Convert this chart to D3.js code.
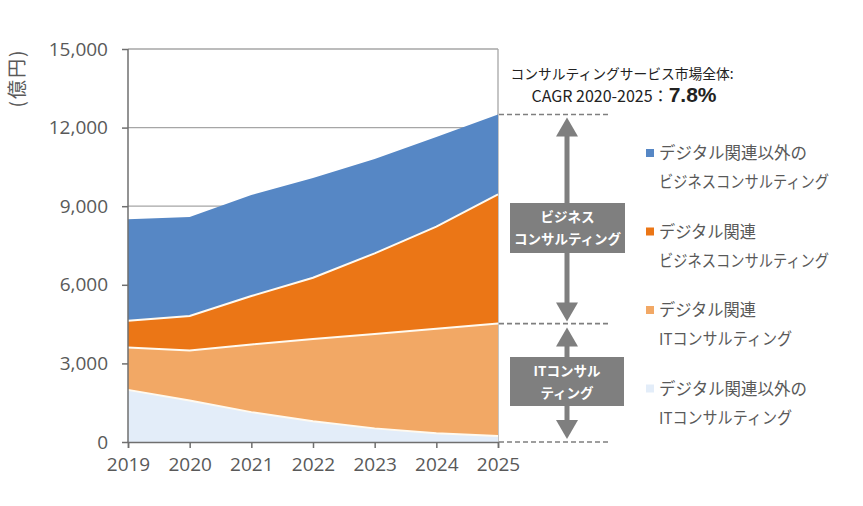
<!DOCTYPE html>
<html><head><meta charset="utf-8">
<script src="https://cdn.jsdelivr.net/npm/d3@7"></script>
<style>body{margin:0;background:#fff}svg{display:block}text{font-family:"Noto Sans CJK JP","Noto Sans",sans-serif}</style>
</head><body>
<svg id="c" width="863" height="506"></svg>
<script>
const years = [2019, 2020, 2021, 2022, 2023, 2024, 2025];
const nonDigitalIT = [1990, 1580, 1140, 790, 520, 330, 230];
const digitalIT = [1620, 1910, 2580, 3140, 3600, 3990, 4290];
const digitalBiz = [1020, 1320, 1850, 2340, 3080, 3900, 4930];
const nonDigitalBiz = [3870, 3780, 3860, 3810, 3600, 3420, 3050];
const yTicks = [0, 3000, 6000, 9000, 12000, 15000];
const legendLines = [["デジタル関連以外の","ビジネスコンサルティング"],["デジタル関連","ビジネスコンサルティング"],["デジタル関連","ITコンサルティング"],["デジタル関連以外の","ITコンサルティング"]];
const colors = ["#E3EDF9", "#F2A865", "#EB7616", "#5687C5"];
const legendColors = ["#5687C5", "#EB7616", "#F2A865", "#E3EDF9"];

const svg = d3.select("#c");
const x = d3.scalePoint().domain(years).range([128, 498]);
const y = d3.scaleLinear().domain([0, 15000]).range([442, 49]);
const axisColor = "#6f6f6f", textColor = "#595959";

// gridlines
svg.append("g").selectAll("line").data(yTicks.filter(d => d > 0)).join("line")
  .attr("x1", 128).attr("x2", 498).attr("y1", d => y(d)).attr("y2", d => y(d))
  .attr("stroke", "#a6a6a6").attr("stroke-width", 1.3);
svg.append("line").attr("x1", 498).attr("x2", 498).attr("y1", y(15000)).attr("y2", y(0))
  .attr("stroke", "#a6a6a6").attr("stroke-width", 1.3);

const table = years.map((yr, i) => ({year: yr, a: nonDigitalIT[i], b: digitalIT[i], c: digitalBiz[i], d: nonDigitalBiz[i]}));
const stack = d3.stack().keys(["a", "b", "c", "d"])(table);
const area = d3.area().x(d => x(d.data.year)).y0(d => y(d[0])).y1(d => y(d[1]));
const line = d3.line().x(d => x(d.data.year)).y(d => y(d[1]));
svg.append("g").selectAll("path").data(stack).join("path")
  .attr("d", area).attr("fill", (d, i) => colors[i]);
svg.append("g").selectAll("path").data(stack.slice(0, 3)).join("path")
  .attr("d", line).attr("fill", "none").attr("stroke", "#fffaf0").attr("stroke-width", 2);

// axes
const yAxis = svg.append("g").attr("transform", "translate(128,0)")
  .call(d3.axisLeft(y).tickValues(yTicks).tickSize(6).tickPadding(14).tickFormat(d3.format(",")));
const xAxis = svg.append("g").attr("transform", "translate(0,442)")
  .call(d3.axisBottom(x).tickSize(6).tickPadding(6).tickFormat(d => d));
[yAxis, xAxis].forEach(g => {
  g.selectAll("path,line").attr("stroke", axisColor).attr("stroke-width", 1.5);
  g.selectAll("text").attr("fill", textColor).style("font-size", "19px").style("font-family", "'Open Sans','Noto Sans',sans-serif");
});
xAxis.selectAll("text").attr("dy", "0.9em");
yAxis.select(".domain").attr("d", "M0,49V442");

svg.append("text").attr("transform", "translate(24,79) rotate(-90)").attr("text-anchor", "middle")
  .attr("fill", textColor).style("font-size", "19px").attr("textLength", 57).text("(億円)");

// CAGR text
svg.append("text").attr("x", 622).attr("y", 79).attr("text-anchor", "middle").attr("fill", "#222")
  .style("font-size", "14px").attr("textLength", 223).attr("lengthAdjust", "spacingAndGlyphs").text("コンサルティングサービス市場全体:");
const t2 = svg.append("text").attr("x", 624).attr("y", 102).attr("text-anchor", "middle").attr("fill", "#222").style("font-size", "16px");
t2.append("tspan").text("CAGR 2020-2025：");
t2.append("tspan").style("font-weight", "bold").style("font-size", "21px").style("font-family", "'Liberation Sans',sans-serif").text("7.8%");

// dashed reference lines
const itTotal = stack[1][6][1], bizTotal = stack[3][6][1];
[bizTotal, itTotal, 0].forEach(v => {
  svg.append("line").attr("x1", 499).attr("x2", 608).attr("y1", y(v)).attr("y2", y(v))
    .attr("stroke", "#7f7f7f").attr("stroke-width", 1.6).attr("stroke-dasharray", "5,3");
});

// arrows
const ac = "#7f7f7f", ax = 567;
function dArrow(top, bot) {
  svg.append("line").attr("x1", ax).attr("x2", ax).attr("y1", top + 15).attr("y2", bot - 15).attr("stroke", ac).attr("stroke-width", 5);
  svg.append("path").attr("d", `M${ax},${top}L${ax - 11},${top + 19}L${ax + 11},${top + 19}Z`).attr("fill", ac);
  svg.append("path").attr("d", `M${ax},${bot}L${ax - 11},${bot - 19}L${ax + 11},${bot - 19}Z`).attr("fill", ac);
}
dArrow(y(bizTotal) + 3, y(itTotal) - 2);
dArrow(y(itTotal) + 4, y(0) - 3);

function box(x0, y0, w, h, lines) {
  svg.append("rect").attr("x", x0).attr("y", y0).attr("width", w).attr("height", h).attr("fill", ac);
  lines.forEach((t, i) => svg.append("text").attr("x", x0 + w / 2).attr("y", y0 + 19 + i * 22)
    .attr("text-anchor", "middle").attr("fill", "#fff").style("font-size", "13.5px").style("font-weight", "bold").text(t));
}
box(510, 203, 115, 50, ["ビジネス", "コンサルティング"]);
box(510, 357, 114, 49, ["ITコンサル", "ティング"]);

// legend
const widths = {"デジタル関連以外の": 148, "ビジネスコンサルティング": 170, "デジタル関連": 97, "ITコンサルティング": 133};
const lg = svg.append("g");
legendLines.forEach((ls, i) => {
  const ly = 153 + i * 78.5;
  lg.append("rect").attr("x", 646).attr("y", ly - 4).attr("width", 8).attr("height", 8).attr("fill", legendColors[i]);
  ls.forEach((t, j) => lg.append("text").attr("x", 659).attr("y", ly + 6 + j * 29).attr("fill", textColor)
    .style("font-size", "16.5px").attr("textLength", widths[t]).attr("lengthAdjust", "spacingAndGlyphs").text(t));
});
</script>
</body></html>
